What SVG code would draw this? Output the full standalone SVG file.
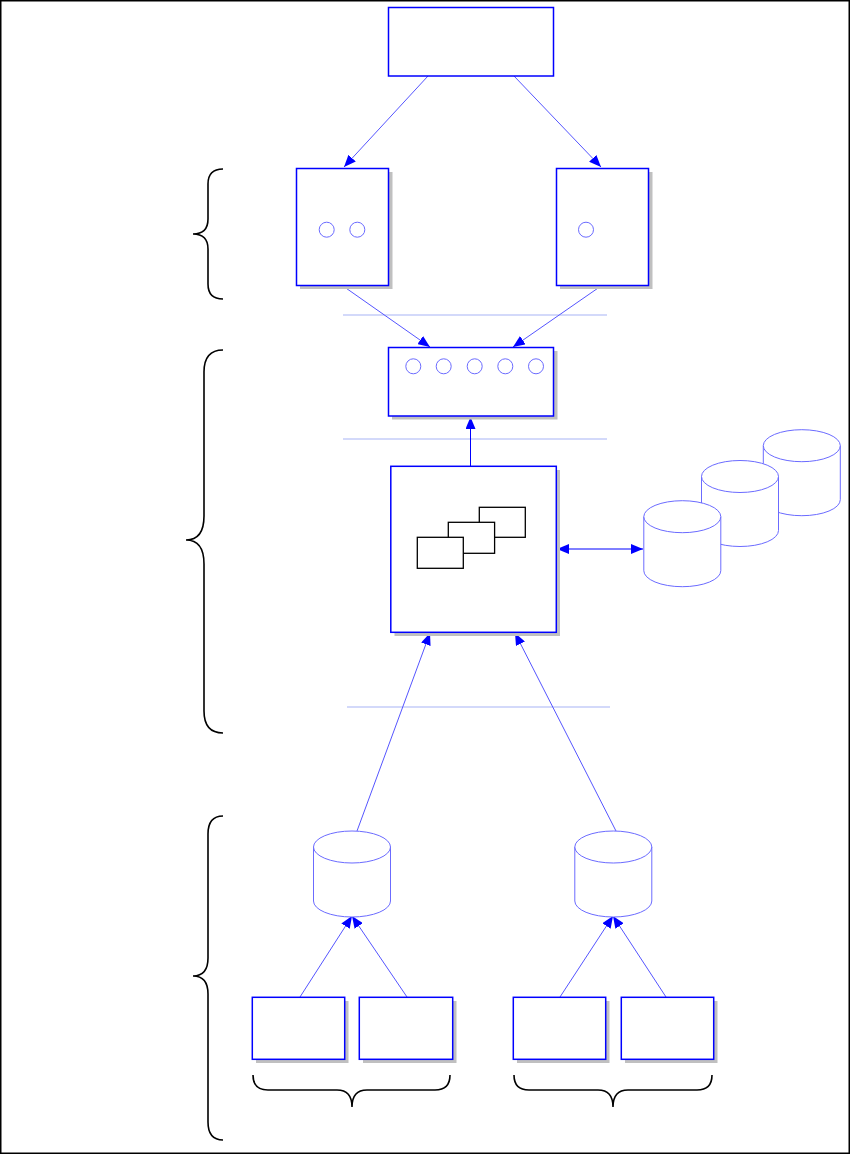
<svg xmlns="http://www.w3.org/2000/svg" width="851" height="1155" viewBox="0 0 851 1155">
<style>
.box{fill:#fff;stroke:#0000ff;stroke-width:1.5}
.sh{fill:#c0c0c0}
.circ{fill:none;stroke:#6b6bff;stroke-width:1}
.cyl{fill:#fff;stroke:#6b6bff;stroke-width:1}
.inner{fill:#fff;stroke:#000;stroke-width:1.3}
.sep{stroke:#c5cdf8;stroke-width:1.5;fill:none}
.con{stroke:#5555ff;stroke-width:1;fill:none}
.brace{fill:none;stroke:#000;stroke-width:1.6}
</style>
<defs>
<marker id="ah" viewBox="0 0 12 10" refX="12" refY="5" markerWidth="12" markerHeight="10" markerUnits="userSpaceOnUse" orient="auto-start-reverse">
<path d="M0,0 L12,5 L0,10 z" fill="#0000ff"/>
</marker>
<symbol id="cyl" overflow="visible">
<path class="cyl" d="M-38.5,0 L-38.5,54 A38.5,16 0 0 0 38.5,54 L38.5,0"/>
<ellipse class="cyl" cx="0" cy="0" rx="38.5" ry="16"/>
</symbol>
</defs>
<rect x="0.75" y="0.75" width="848.5" height="1152.5" fill="#fff" stroke="#000" stroke-width="1.5"/>

<g id="separators">
<line class="sep" x1="343" y1="315" x2="607" y2="315"/>
<line class="sep" x1="343" y1="439" x2="607" y2="439"/>
<line class="sep" x1="347" y1="707" x2="610" y2="707"/>
</g>

<g id="connectors">
<line class="con" x1="428" y1="76" x2="344" y2="167" marker-end="url(#ah)"/>
<line class="con" x1="514" y1="76" x2="601" y2="167" marker-end="url(#ah)"/>
<line class="con" x1="343" y1="286" x2="430" y2="347" marker-end="url(#ah)"/>
<line class="con" x1="601" y1="286" x2="513" y2="347" marker-end="url(#ah)"/>
<line x1="470.5" y1="466" x2="470.5" y2="417" stroke="#0000ff" stroke-width="1" marker-end="url(#ah)"/>
<line x1="557" y1="549" x2="643" y2="549" stroke="#0000ff" stroke-width="1" marker-start="url(#ah)" marker-end="url(#ah)"/>
<line class="con" x1="357" y1="831" x2="430" y2="633" marker-end="url(#ah)"/>
<line class="con" x1="616" y1="831" x2="515" y2="633" marker-end="url(#ah)"/>
<line class="con" x1="300" y1="997" x2="352" y2="916" marker-end="url(#ah)"/>
<line class="con" x1="407" y1="997" x2="352" y2="916" marker-end="url(#ah)"/>
<line class="con" x1="560" y1="997" x2="613" y2="916" marker-end="url(#ah)"/>
<line class="con" x1="666" y1="997" x2="613" y2="916" marker-end="url(#ah)"/>
</g>

<g id="top-node">
<rect class="box" x="388.5" y="7.5" width="165" height="68.5"/>
</g>

<g id="mid-left-node">
<rect class="sh" x="300" y="172" width="92.5" height="117"/>
<rect class="box" x="296.5" y="168.5" width="92" height="117"/>
<circle class="circ" cx="326.7" cy="229.7" r="7.5"/>
<circle class="circ" cx="357.3" cy="229.7" r="7.5"/>
</g>

<g id="mid-right-node">
<rect class="sh" x="560" y="172" width="92.5" height="117"/>
<rect class="box" x="556.5" y="168.5" width="92" height="117"/>
<circle class="circ" cx="586" cy="229.7" r="7.5"/>
</g>

<g id="port-node">
<rect class="sh" x="392" y="351" width="165.5" height="68.5"/>
<rect class="box" x="388.5" y="347.5" width="165" height="68.5"/>
<circle class="circ" cx="413.3" cy="366.3" r="7.5"/>
<circle class="circ" cx="443.7" cy="366.3" r="7.5"/>
<circle class="circ" cx="474.7" cy="366.3" r="7.5"/>
<circle class="circ" cx="505.3" cy="366.3" r="7.5"/>
<circle class="circ" cx="536" cy="366.3" r="7.5"/>
</g>

<g id="core-node">
<rect class="sh" x="394.5" y="470" width="165.5" height="166"/>
<rect class="box" x="390.8" y="466.3" width="165.5" height="166"/>
<rect class="inner" x="479.3" y="507.3" width="46" height="30"/>
<rect class="inner" x="448.3" y="522.3" width="46.3" height="31"/>
<rect class="inner" x="417.3" y="537.3" width="46" height="31"/>
</g>

<g id="storage-stack">
<use href="#cyl" x="801.8" y="445.7"/>
<use href="#cyl" x="740" y="476.5"/>
<use href="#cyl" x="682.3" y="516.7"/>
</g>

<g id="db-left">
<use href="#cyl" x="352" y="847"/>
</g>
<g id="db-right">
<use href="#cyl" x="613.3" y="847"/>
</g>

<g id="src-1">
<rect class="sh" x="256" y="1001" width="92.5" height="62"/>
<rect class="box" x="252.3" y="997.3" width="92.4" height="62"/>
</g>
<g id="src-2">
<rect class="sh" x="363" y="1001" width="93.5" height="62"/>
<rect class="box" x="359.3" y="997.3" width="93.4" height="62"/>
</g>
<g id="src-3">
<rect class="sh" x="517" y="1001" width="92.5" height="62"/>
<rect class="box" x="513.3" y="997.3" width="92.4" height="62"/>
</g>
<g id="src-4">
<rect class="sh" x="625" y="1001" width="92.5" height="62"/>
<rect class="box" x="621.3" y="997.3" width="92.4" height="62"/>
</g>

<g id="braces">
<path class="brace" d="M223,169 Q208,169 208,184 L208,219 Q208,234 193,234 Q208,234 208,249 L208,284 Q208,299 223,299"/>
<path class="brace" d="M223,350 Q204,350 204,372 L204,516 Q204,540 186,540 Q204,540 204,564 L204,711 Q204,733 223,733"/>
<path class="brace" d="M223,816 Q208,816 208,834 L208,958 Q208,976 193,976 Q208,976 208,994 L208,1122 Q208,1140 223,1140"/>
<path class="brace" d="M253,1075 Q253,1090 268,1090 L337,1090 Q352,1090 352,1107 Q352,1090 367,1090 L435,1090 Q450,1090 450,1075"/>
<path class="brace" d="M514,1075 Q514,1090 529,1090 L598,1090 Q613,1090 613,1107 Q613,1090 628,1090 L697,1090 Q712,1090 712,1075"/>
</g>
</svg>
